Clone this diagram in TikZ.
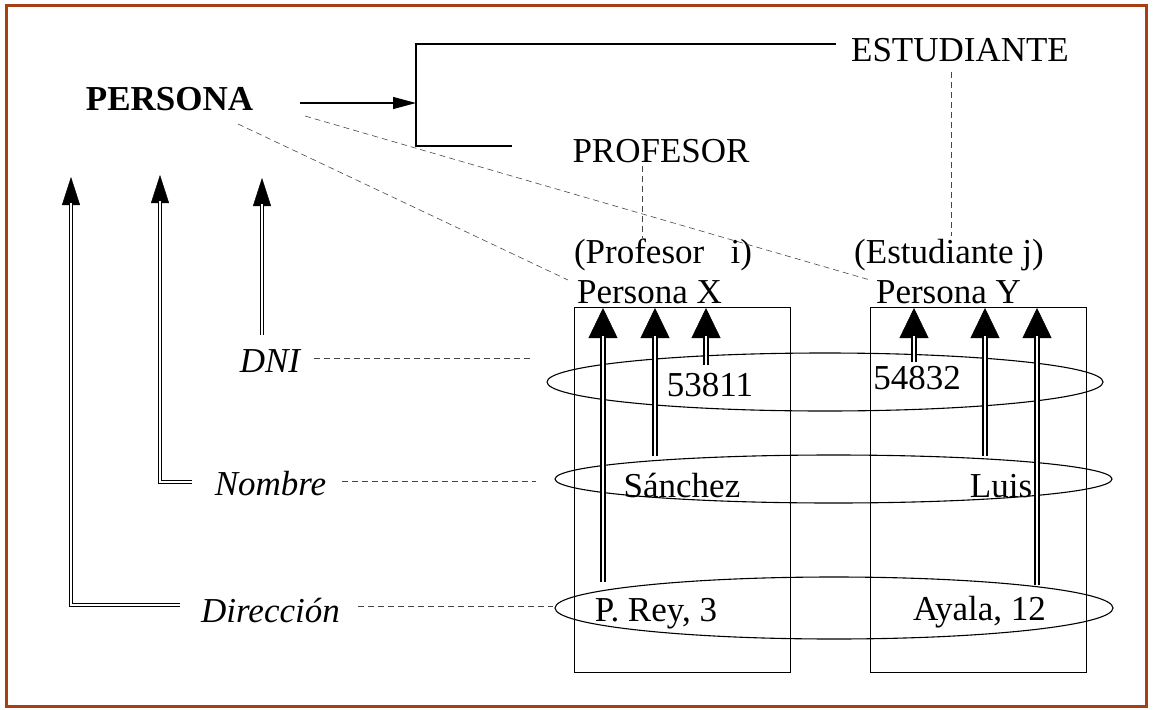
\documentclass[tikz,border=0pt]{standalone}
\usepackage{fontspec}
\setmainfont{Liberation Serif}
\usepackage{xcolor}
\usepackage{tikz}
\usetikzlibrary{shapes.geometric,arrows.meta,positioning,calc}
\definecolor{framebrown}{RGB}{166,64,18}
\definecolor{dashgray}{RGB}{70,70,70}

\begin{document}
\begin{tikzpicture}[x=1pt, y=-1pt,
    lbl/.style={inner sep=0pt, anchor=base, font=\fontsize{35}{42}\selectfont},
    attr/.style={inner sep=0pt, anchor=base, font=\fontsize{35}{42}\selectfont\itshape},
    obj/.style={draw, line width=0.9pt, inner sep=0pt, minimum width=216pt, minimum height=365pt},
    valset/.style={draw, ellipse, line width=1.1pt, inner sep=0pt},
    link/.style={dashgray, line width=0.6pt, dash pattern=on 6pt off 4pt},
    bigshaft/.style={double, double distance=2.4pt, line width=2.2pt, shorten >=28pt},
    bighead/.style={line width=0.5pt, -{Triangle[length=30pt,width=29pt]}},
    smallshaft/.style={double, double distance=1.8pt, line width=0.9pt, shorten >=26pt},
    smallhead/.style={line width=0.4pt, -{Triangle[length=28pt,width=18pt]}}]
    \useasboundingbox (0,0) rectangle (1153,709);
    \draw[framebrown, line width=3.3pt] (6.5,5.5) rectangle (1146.5,706.5);

    % Types
    \node[lbl, font=\fontsize{35}{42}\selectfont\bfseries] (persona) at (169.5,110) {PERSONA};
    \node[lbl] (estud) at (960,62) {ESTUDIANTE};
    \node[lbl] (prof) at (661,162) {PROFESOR};
    \coordinate (pstart) at (300,103);
    \coordinate (ptip) at (416,103);
    \coordinate (brtop) at (416,44);
    \coordinate (brbot) at (416,146);
    \coordinate (brend) at (512,146);
    \coordinate (etop) at (836,44);
    \draw[line width=1.1pt, -{Triangle[length=23pt,width=12pt]}] (pstart) -- (ptip);
    \draw[line width=1.1pt] (etop) -- (brtop) -- (brbot) -- (brend);

    % Objects
    \node[lbl] (profi) at (663,263) {(Profesor~~~i)};
    \node[lbl] (estj) at (949,263) {(Estudiante j)};
    \node[lbl] (persx) at (649.5,303) {Persona X};
    \node[lbl] (persy) at (948.5,303) {Persona Y};
    \node[obj] (boxx) at (682,489.5) {};
    \node[obj] (boxy) at (978,489.5) {};

    \coordinate (pla) at (238,124);
    \coordinate (plb) at (568,280);
    \coordinate (pma) at (305,116);
    \coordinate (pmb) at (870,280);
    \draw[link] (pla) -- (plb);
    \draw[link] (pma) -- (pmb);
    \coordinate (pfa) at (642,166);
    \coordinate (pfb) at (642,238);
    \coordinate (esa) at (951,72);
    \coordinate (esb) at (951,236);
    \draw[link] (pfa) -- (pfb);
    \draw[link] (esa) -- (esb);

    % Attribute sets
    \node[valset, minimum width=556pt, minimum height=58pt] (dniset) at (825,382) {};
    \node[valset, minimum width=557pt, minimum height=48pt] (nomset) at (833.5,479) {};
    \node[valset, minimum width=558pt, minimum height=62pt] (dirset) at (834,608) {};
    \node[lbl] (vdx) at (710,396) {53811};
    \node[lbl] (vdy) at (917,389) {54832};
    \node[lbl] (vnx) at (682,497) {Sánchez};
    \node[lbl] (vny) at (1001,497) {Luis};
    \node[lbl] (vrx) at (656,621) {P. Rey, 3};
    \node[lbl] (vry) at (979.5,620) {Ayala, 12};

    \foreach \x/\yb in {603/582, 655/456, 706/365, 914/362, 985/456, 1037/585} {
        \coordinate (a\x) at (\x,\yb);
        \coordinate (t\x) at (\x,308);
        \draw[bighead] (a\x) -- (t\x);
        \draw[bigshaft] (a\x) -- (t\x);
    }

    % Attributes
    \node[attr] (dni) at (270,372) {DNI};
    \node[attr] (nombre) at (270.5,495) {Nombre};
    \node[attr] (direc) at (270.5,622) {Dirección};
    \coordinate (dnia) at (314,358);
    \coordinate (dnib) at (533,358);
    \coordinate (noma) at (342,481);
    \coordinate (nomb) at (536,481);
    \coordinate (dira) at (358,606);
    \coordinate (dirb) at (553,606);
    \draw[link] (dnia) -- (dnib);
    \draw[link] (noma) -- (nomb);
    \draw[link] (dira) -- (dirb);

    \coordinate (dnifoot) at (262,335);
    \coordinate (dnitip) at (262,178);
    \coordinate (nomfoot) at (192,482);
    \coordinate (nomcorner) at (160,482);
    \coordinate (nomtip) at (160,175);
    \coordinate (dirfoot) at (180,605);
    \coordinate (dircorner) at (71,605);
    \coordinate (dirtip) at (71,177);
    \draw[smallhead] (dnifoot) -- (dnitip);
    \draw[smallshaft] (dnifoot) -- (dnitip);
    \draw[smallhead] (nomcorner) -- (nomtip);
    \draw[smallshaft] (nomfoot) -- (nomcorner) -- (nomtip);
    \draw[smallhead] (dircorner) -- (dirtip);
    \draw[smallshaft] (dirfoot) -- (dircorner) -- (dirtip);
\end{tikzpicture}
\end{document}
